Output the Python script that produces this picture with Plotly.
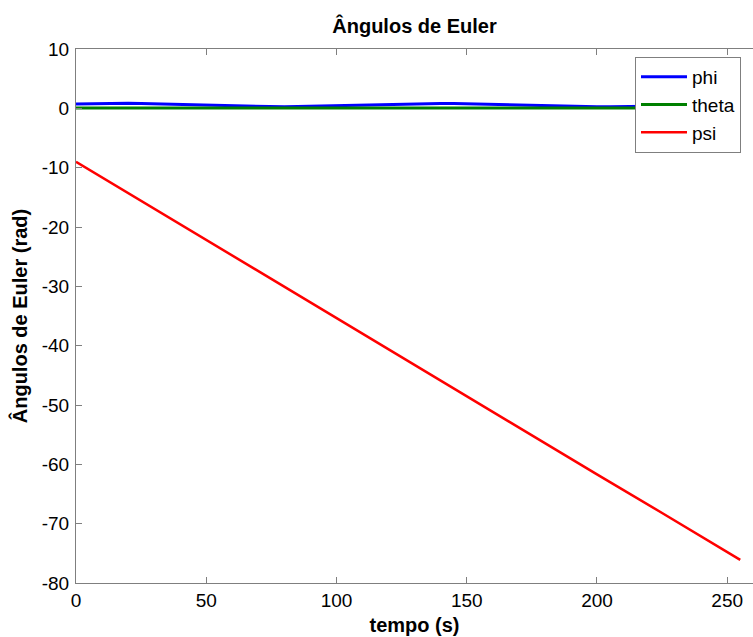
import plotly.graph_objects as go

# ---- data ----
t_fine = [0, 5, 10, 15, 20, 25, 30, 35, 40, 45, 50, 55, 60, 65, 70, 75, 80, 85, 90, 95,
          100, 105, 110, 115, 120, 125, 130, 135, 140, 145, 150, 155, 160, 165, 170, 175,
          180, 185, 190, 195, 200, 205, 210, 215, 220, 225, 230, 235, 240, 245, 250, 255]
phi = [0.75, 0.8, 0.85, 0.85, 0.85, 0.8, 0.75, 0.7, 0.6, 0.5, 0.45, 0.4, 0.35, 0.3, 0.3,
       0.25, 0.25, 0.3, 0.35, 0.4, 0.45, 0.5, 0.6, 0.65, 0.7, 0.75, 0.8, 0.8, 0.8, 0.8,
       0.75, 0.7, 0.6, 0.5, 0.45, 0.4, 0.35, 0.3, 0.3, 0.25, 0.25, 0.25, 0.25, 0.3, 0.35,
       0.4, 0.45, 0.5, 0.55, 0.6, 0.65, 0.7]
theta = [0.05, 0.05, 0.05, 0.0, 0.0, 0.05, 0.05, 0.05, 0.1, 0.1, 0.05, 0.05, 0.0, 0.0,
         0.0, 0.0, 0.05, 0.05, 0.0, 0.0, 0.05, 0.05, 0.05, 0.05, 0.1, 0.1, 0.05, 0.05,
         0.0, 0.0, 0.05, 0.05, 0.1, 0.1, 0.05, 0.05, 0.0, 0.0, 0.0, 0.05, 0.05, 0.05,
         0.05, 0.0, 0.0, 0.05, 0.05, 0.1, 0.05, 0.05, 0.05, 0.05]
t_psi = [0, 25, 50, 75, 100, 125, 150, 175, 200, 225, 255]
psi = [-9.0, -15.6, -22.2, -28.7, -35.3, -41.9, -48.5, -55.1, -61.7, -68.2, -76.1]

x_ticks = [0, 50, 100, 150, 200, 250]
y_ticks = [10, 0, -10, -20, -30, -40, -50, -60, -70, -80]
y_tick_text = ["10", "0", "-10", "-20", "-30", "-40", "-50", "-60", "-70", "-80"]

FONT = "Liberation Sans, Arial, sans-serif"
AX = "#7f7f7f"

fig = go.Figure()
fig.add_trace(go.Scatter(x=t_fine, y=phi, mode="lines", name="phi",
                         line=dict(color="#0000ff", width=3)))
fig.add_trace(go.Scatter(x=t_fine, y=theta, mode="lines", name="theta",
                         line=dict(color="#008000", width=3)))
fig.add_trace(go.Scatter(x=t_psi, y=psi, mode="lines", name="psi",
                         line=dict(color="#ff0000", width=2.5)))

fig.update_layout(
    width=753, height=637,
    margin=dict(l=76, r=0, t=49, b=54),
    paper_bgcolor="white", plot_bgcolor="white",
    font=dict(family=FONT, size=19, color="black"),
    title=dict(text="<b>Ângulos de Euler</b>", x=0.5, xref="paper", xanchor="center",
               y=1 - 26 / 637, yref="container", yanchor="middle",
               font=dict(family=FONT, size=20, color="black")),
    showlegend=True,
    legend=dict(x=(635 - 76) / 677, y=(583 - 57) / 534, xanchor="left", yanchor="top",
                bgcolor="white", bordercolor=AX, borderwidth=1,
                font=dict(family=FONT, size=19, color="black"),
                itemwidth=46, tracegroupgap=0),
)
fig.update_xaxes(range=[0, 259.9], tickvals=x_ticks, ticks="inside", ticklen=6,
                 tickcolor=AX, showline=True, linecolor=AX, linewidth=1, mirror="ticks",
                 showgrid=False, zeroline=False,
                 title=dict(text="<b>tempo (s)</b>", standoff=8,
                            font=dict(family=FONT, size=20)))
fig.update_yaxes(range=[-80, 10], tickvals=y_ticks, ticktext=y_tick_text,
                 ticks="inside", ticklen=6,
                 tickcolor=AX, showline=True, linecolor=AX, linewidth=1, mirror=False,
                 showgrid=False, zeroline=False, ticklabelstandoff=2,
                 title=dict(text="<b>Ângulos de Euler (rad)</b>", standoff=8,
                            font=dict(family=FONT, size=20)))

fig.write_html("out.html")
